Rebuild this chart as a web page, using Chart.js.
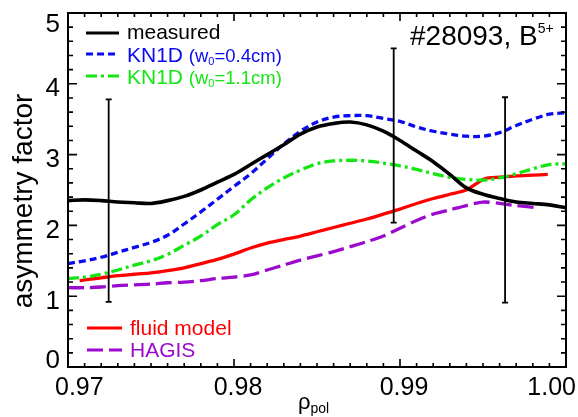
<!DOCTYPE html>
<html>
<head>
<meta charset="utf-8">
<script src="https://cdn.jsdelivr.net/npm/chart.js@4.4.1/dist/chart.umd.min.js"></script>
<style>
  html, body { margin: 0; padding: 0; background: #fff; overflow: hidden; }
  #wrap { width: 578px; height: 417px; }
</style>
</head>
<body>
<div id="wrap"><canvas id="c" width="578" height="417"></canvas></div>
<script>
// Normalised poloidal flux coordinate for the profiles
const rhoGrid = [0.970, 0.971, 0.972, 0.973, 0.974, 0.975, 0.976, 0.977, 0.978, 0.979,
                 0.980, 0.981, 0.982, 0.983, 0.984, 0.985, 0.986, 0.987, 0.988, 0.989,
                 0.990, 0.991, 0.992, 0.993, 0.994, 0.995, 0.996, 0.997, 0.998, 0.999, 1.000];

// Measured in/out asymmetry factor
const measured = [2.35, 2.36, 2.35, 2.33, 2.32, 2.31, 2.35, 2.41, 2.50, 2.61,
                  2.72, 2.86, 3.00, 3.14, 3.29, 3.39, 3.44, 3.46, 3.42, 3.33,
                  3.20, 3.05, 2.90, 2.72, 2.53, 2.44, 2.38, 2.33, 2.31, 2.29, 2.25];

// KN1D, w0 = 0.4 cm
const kn1dNarrow = [1.46, 1.50, 1.55, 1.62, 1.69, 1.76, 1.86, 2.02, 2.19, 2.37,
                    2.55, 2.73, 2.94, 3.15, 3.33, 3.46, 3.53, 3.55, 3.55, 3.51,
                    3.47, 3.39, 3.33, 3.29, 3.26, 3.26, 3.31, 3.41, 3.50, 3.57, 3.59];

// KN1D, w0 = 1.1 cm
const kn1dWide = [1.25, 1.27, 1.31, 1.37, 1.44, 1.50, 1.59, 1.72, 1.85, 2.01,
                  2.15, 2.36, 2.53, 2.67, 2.78, 2.87, 2.91, 2.92, 2.91, 2.88,
                  2.84, 2.79, 2.73, 2.68, 2.65, 2.64, 2.67, 2.73, 2.80, 2.86, 2.87];

// Fluid model
const rhoFluid = [0.9707, 0.971, 0.972, 0.973, 0.974, 0.975, 0.976, 0.977, 0.978, 0.979,
                  0.980, 0.981, 0.982, 0.983, 0.984, 0.985, 0.986, 0.987, 0.988, 0.989,
                  0.990, 0.991, 0.992, 0.993, 0.994, 0.9951, 0.996, 0.997, 0.998, 0.9989];
const fluidModel = [1.22, 1.23, 1.26, 1.29, 1.31, 1.33, 1.36, 1.40, 1.46, 1.52,
                    1.595, 1.68, 1.75, 1.80, 1.85, 1.91, 1.97, 2.03, 2.09, 2.16,
                    2.23, 2.31, 2.38, 2.44, 2.50, 2.66, 2.68, 2.70, 2.71, 2.72];

// HAGIS
const rhoHagis = [0.970, 0.971, 0.972, 0.973, 0.974, 0.975, 0.976, 0.977, 0.978, 0.979,
                  0.980, 0.981, 0.982, 0.983, 0.984, 0.985, 0.986, 0.987, 0.988, 0.989,
                  0.990, 0.991, 0.992, 0.993, 0.994, 0.995, 0.996, 0.997, 0.9983];
const hagis = [1.12, 1.12, 1.13, 1.15, 1.16, 1.17, 1.19, 1.20, 1.22, 1.25,
               1.27, 1.30, 1.37, 1.44, 1.51, 1.57, 1.63, 1.70, 1.77, 1.85,
               1.96, 2.07, 2.16, 2.22, 2.28, 2.33, 2.31, 2.28, 2.25];

// Error bars on the measurement
const errRho  = [0.97245, 0.98962, 0.99633];
const errLow  = [0.92, 2.04, 0.91];
const errHigh = [3.78, 4.50, 3.81];

// Axis ticks
const xTickLabels = ['0.97', '0.98', '0.99', '1.00'];
const yTickLabels = ['0', '1', '2', '3', '4', '5'];

const FONT = '"Liberation Sans", Arial, Helvetica, sans-serif';
const BLUE = '#0a0af0', GREEN = '#14e614', RED = '#ff0000', PURPLE = '#9b0acd';

const pts = (xs, ys) => xs.map((x, i) => ({ x: x, y: ys[i] }));

function drawRich(ctx, x, y, segs, color) {
  ctx.fillStyle = color;
  ctx.textAlign = 'left';
  ctx.textBaseline = 'alphabetic';
  for (const s of segs) {
    ctx.font = s.size + 'px ' + FONT;
    ctx.fillText(s.t, x, y + (s.dy || 0));
    x += ctx.measureText(s.t).width;
  }
}

// Frame, inward ticks, tick labels, titles, error bars, legends and annotation
const decorations = {
  id: 'decorations',
  afterDatasetsDraw(chart) {
    const { ctx, chartArea: a, scales: { x, y } } = chart;
    ctx.save();

    // error bars
    ctx.strokeStyle = '#000';
    ctx.lineWidth = 1.8;
    errRho.forEach((r, i) => {
      const px = x.getPixelForValue(r);
      const lo = y.getPixelForValue(errLow[i]);
      const hi = y.getPixelForValue(errHigh[i]);
      ctx.beginPath();
      ctx.moveTo(px, lo); ctx.lineTo(px, hi);
      ctx.moveTo(px - 3, lo); ctx.lineTo(px + 3, lo);
      ctx.moveTo(px - 3, hi); ctx.lineTo(px + 3, hi);
      ctx.stroke();
    });

    // frame
    ctx.lineWidth = 2;
    ctx.strokeRect(a.left, a.top, a.right - a.left, a.bottom - a.top);

    // inward ticks on all four sides
    ctx.lineWidth = 1.6;
    ctx.beginPath();
    for (let i = 0; i <= 30; i++) {
      const px = x.getPixelForValue(0.97 + i * 0.001);
      const len = i % 10 === 0 ? 8 : 4;
      ctx.moveTo(px, a.bottom); ctx.lineTo(px, a.bottom - len);
      ctx.moveTo(px, a.top); ctx.lineTo(px, a.top + len);
    }
    for (let i = 0; i <= 25; i++) {
      const py = y.getPixelForValue(i * 0.2);
      const len = i % 5 === 0 ? 9 : 5;
      ctx.moveTo(a.left, py); ctx.lineTo(a.left + len, py);
      ctx.moveTo(a.right, py); ctx.lineTo(a.right - len, py);
    }
    ctx.stroke();

    // tick labels
    ctx.fillStyle = '#000';
    ctx.textBaseline = 'alphabetic';
    ctx.font = '26px ' + FONT;
    ctx.textAlign = 'right';
    yTickLabels.forEach(t => {
      let cy = y.getPixelForValue(parseFloat(t)) + 3;
      cy = Math.max(a.top + 10, Math.min(a.bottom - 8, cy));
      ctx.fillText(t, a.left - 8, cy + 0.358 * 26);
    });
    ctx.font = '25px ' + FONT;
    ctx.textAlign = 'center';
    xTickLabels.forEach(t => {
      const w = ctx.measureText(t).width;
      let cx = x.getPixelForValue(parseFloat(t)) + 4;
      cx = Math.max(55 + w / 2, Math.min(chart.width - 2 - w / 2, cx));
      ctx.fillText(t, cx, a.bottom + 28);
    });

    // axis titles
    ctx.save();
    ctx.translate(24, (a.top + a.bottom) / 2 + 11);
    ctx.rotate(-Math.PI / 2);
    ctx.font = '28px ' + FONT;
    ctx.textAlign = 'center';
    ctx.textBaseline = 'middle';
    ctx.fillText('asymmetry factor', 0, 0);
    ctx.restore();
    drawRich(ctx, (a.left + a.right) / 2 - 19, 409, [
      { t: 'ρ', size: 22 }, { t: 'pol', size: 14, dy: 4 }
    ], '#000');

    // legends
    const legendRows = [
      { ds: 0, x0: 86, x1: 119, ly: 33, ty: 39, segs: [{ t: 'measured', size: 21 }] },
      { ds: 1, x0: 86, x1: 119, ly: 54, ty: 61.5, segs: [{ t: 'KN1D ', size: 21 }, { t: '(w', size: 18.5 }, { t: '0', size: 11, dy: 3 }, { t: '=0.4cm)', size: 18.5 }] },
      { ds: 2, x0: 86, x1: 119, ly: 76, ty: 84, segs: [{ t: 'KN1D ', size: 21 }, { t: '(w', size: 18.5 }, { t: '0', size: 11, dy: 3 }, { t: '=1.1cm)', size: 18.5 }] },
      { ds: 3, x0: 87, x1: 122, ly: 328, ty: 335, segs: [{ t: 'fluid model', size: 21 }] },
      { ds: 4, x0: 87, x1: 122, ly: 350, ty: 357, segs: [{ t: 'HAGIS', size: 21 }] }
    ];
    legendRows.forEach(r => {
      const d = chart.data.datasets[r.ds];
      ctx.save();
      ctx.strokeStyle = d.borderColor;
      ctx.lineWidth = 3.2;
      ctx.setLineDash(d.borderDash || []);
      ctx.beginPath();
      ctx.moveTo(r.x0, r.ly); ctx.lineTo(r.x1, r.ly);
      ctx.stroke();
      ctx.restore();
      drawRich(ctx, r.x1 + 8, r.ty, r.segs, d.borderColor);
    });

    // shot annotation
    drawRich(ctx, 410, 45, [{ t: '#28093, B', size: 28 }, { t: '5+', size: 14, dy: -12 }], '#000');

    ctx.restore();
  }
};

new Chart(document.getElementById('c'), {
  type: 'line',
  data: {
    datasets: [
      { label: 'measured', data: pts(rhoGrid, measured), borderColor: '#000', borderWidth: 3.6, tension: 0.35 },
      { label: 'KN1D (w0=0.4cm)', data: pts(rhoGrid, kn1dNarrow), borderColor: BLUE, borderWidth: 3.3, borderDash: [7, 4], tension: 0.35 },
      { label: 'KN1D (w0=1.1cm)', data: pts(rhoGrid, kn1dWide), borderColor: GREEN, borderWidth: 3.3, borderDash: [11, 4, 3, 4], tension: 0.35 },
      { label: 'fluid model', data: pts(rhoFluid, fluidModel), borderColor: RED, borderWidth: 3.3, tension: 0.2 },
      { label: 'HAGIS', data: pts(rhoHagis, hagis), borderColor: PURPLE, borderWidth: 3.3, borderDash: [16, 6], tension: 0.3 }
    ]
  },
  options: {
    responsive: false,
    animation: false,
    events: [],
    layout: { padding: { top: 13, right: 12, left: 0, bottom: 0 } },
    elements: { point: { radius: 0 }, line: { fill: false, borderCapStyle: 'butt' } },
    plugins: { legend: { display: false }, tooltip: { enabled: false } },
    scales: {
      x: {
        type: 'linear', min: 0.97, max: 1.0,
        ticks: { display: false }, grid: { display: false }, border: { display: false },
        afterFit(s) { s.height = 50; s.paddingLeft = 0; s.paddingRight = 0; }
      },
      y: {
        type: 'linear', min: 0, max: 5,
        ticks: { display: false }, grid: { display: false }, border: { display: false },
        afterFit(s) { s.width = 68; s.paddingTop = 0; s.paddingBottom = 0; }
      }
    }
  },
  plugins: [decorations]
});
</script>
</body>
</html>
